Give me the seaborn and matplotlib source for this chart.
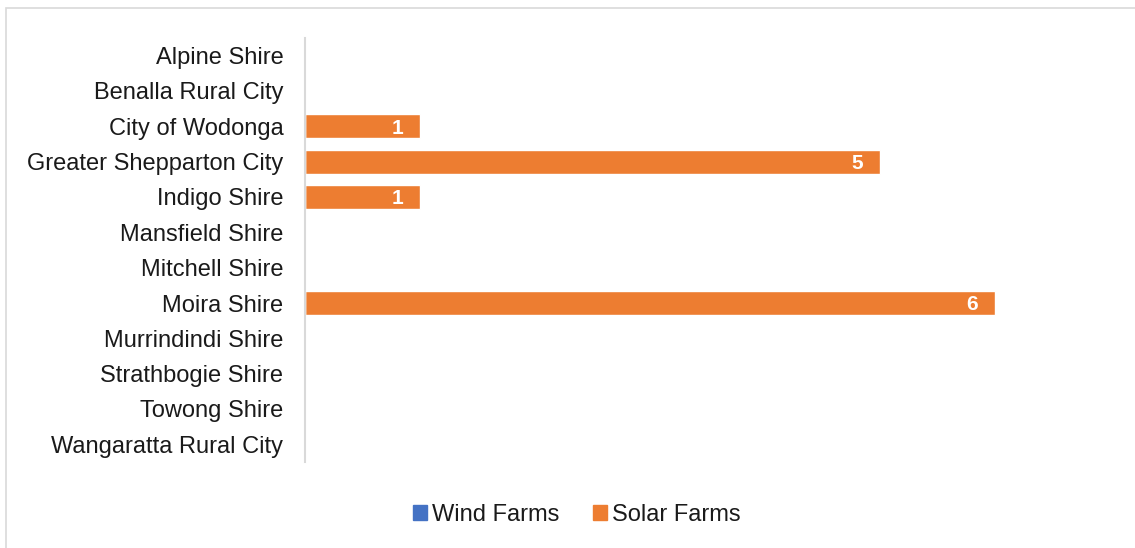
import matplotlib
matplotlib.use("Agg")
import matplotlib.pyplot as plt
import matplotlib.patches as mpatches
import pandas as pd
import seaborn as sns

councils = [
    "Alpine Shire", "Benalla Rural City", "City of Wodonga",
    "Greater Shepparton City", "Indigo Shire", "Mansfield Shire",
    "Mitchell Shire", "Moira Shire", "Murrindindi Shire",
    "Strathbogie Shire", "Towong Shire", "Wangaratta Rural City",
]
wind_farms = [0, 0, 0, 0, 0, 0, 0, 0, 0, 0, 0, 0]
solar_farms = [0, 0, 1, 5, 1, 0, 0, 6, 0, 0, 0, 0]
series_names = ["Wind Farms", "Solar Farms"]

WIND_COLOR = "#4472C4"
SOLAR_COLOR = "#ED7D31"
TEXT_COLOR = "#1a1a1a"

sns.set_theme(style="white")
plt.rcParams["font.family"] = ["Liberation Sans", "DejaVu Sans"]

df = pd.DataFrame({"council": councils, "wind": wind_farms, "solar": solar_farms})
df["total"] = df["wind"] + df["solar"]

fig = plt.figure(figsize=(11.35, 5.48), dpi=100)
ax = fig.add_axes([305 / 1135, 1 - 462 / 548, (1110 - 305) / 1135, (462 - 38) / 548])

# stacked bars: total first, wind drawn over its own segment
sns.barplot(data=df, y="council", x="total", color=SOLAR_COLOR, orient="h",
            width=0.68, saturation=1, ax=ax)
sns.barplot(data=df, y="council", x="wind", color=WIND_COLOR, orient="h",
            width=0.68, saturation=1, ax=ax)

ax.set_xlim(0, 7)
ax.set_ylim(len(councils) - 0.5, -0.5)
ax.set_xlabel("")
ax.set_ylabel("")
ax.set_xticks([])
ax.tick_params(axis="y", length=0, pad=15.5, labelsize=17, labelcolor=TEXT_COLOR)
for side in ("top", "right", "bottom"):
    ax.spines[side].set_visible(False)
ax.spines["left"].set_color("#D9D9D9")
ax.spines["left"].set_linewidth(1.5)

# value labels inside the end of each solar bar
for i, (w, s) in enumerate(zip(wind_farms, solar_farms)):
    if s > 0:
        ax.annotate(str(s), xy=(w + s, i), xytext=(-17, -2), textcoords="offset pixels",
                    ha="right", va="center", color="white", fontsize=15,
                    fontweight="bold")

handles = [mpatches.Patch(color=WIND_COLOR), mpatches.Patch(color=SOLAR_COLOR)]
fig.legend(handles, series_names, loc="center", bbox_to_anchor=(577 / 1135, 1 - 515 / 548),
           ncol=2, frameon=False, fontsize=17, handlelength=0.58, handleheight=0.58,
           handletextpad=0.25, columnspacing=1.4, labelcolor=TEXT_COLOR)

# chart area border
fig.patches.append(mpatches.Rectangle((6 / 1135, -0.05), 1.2, 1.05 - 8 / 548,
                                      transform=fig.transFigure, fill=False,
                                      edgecolor="#D9D9D9", linewidth=1.2))

fig.savefig("out.png", dpi=100, facecolor="white")
